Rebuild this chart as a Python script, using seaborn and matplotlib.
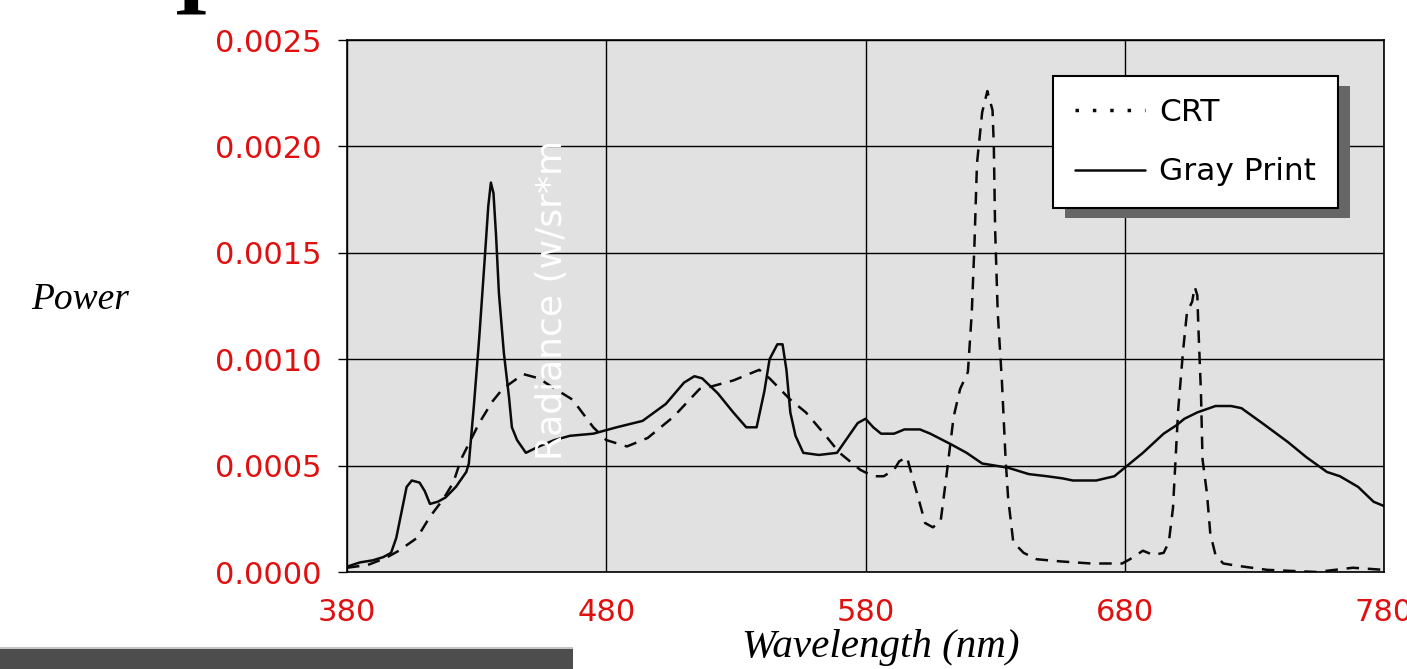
import matplotlib
matplotlib.use("Agg")
import numpy as np
import pandas as pd
import matplotlib.pyplot as plt
import seaborn as sns
from matplotlib.lines import Line2D
from matplotlib.patches import Rectangle

# Spectra (wavelength in nm, radiance)
crt_nm = [380, 388, 395, 400, 407, 412, 417, 421, 424, 431, 436, 440, 448, 454, 459,
          467, 475, 480, 488, 496, 506, 516, 520, 529, 539, 543, 551, 557, 564, 570,
          578, 583, 587, 591, 593, 596, 598, 601, 603, 606, 609, 611, 614, 616.5,
          619.5, 621, 622, 623, 625, 627, 629, 629.5, 630, 631, 632.6, 634, 635, 637,
          641, 646, 655, 667, 679, 682, 687, 691, 695, 697, 698.6, 700.6, 702.5, 704,
          706, 707, 708, 708.4, 709.4, 710, 711.7, 713, 715, 718, 723, 735, 754, 768, 780]
crt_val = [0.00002, 0.000033, 0.000066, 0.0001, 0.00016, 0.00026, 0.00034, 0.00042,
           0.00053, 0.0007, 0.0008, 0.00086, 0.00093, 0.00091, 0.00087, 0.00081,
           0.00068, 0.00062, 0.00059, 0.00063, 0.00073, 0.00086, 0.00087, 0.0009,
           0.00095, 0.00091, 0.00081, 0.00075, 0.00065, 0.00056, 0.00048, 0.00045,
           0.00045, 0.00048, 0.00052, 0.00054, 0.00045, 0.00032, 0.00023, 0.00021,
           0.00024, 0.00043, 0.00073, 0.00086, 0.00094, 0.00122, 0.00153, 0.00192,
           0.00216, 0.00226, 0.00217, 0.002, 0.00161, 0.00122, 0.0009, 0.00054,
           0.00035, 0.00014, 0.00009, 0.00006, 0.00005, 0.00004, 0.00004, 0.00006,
           0.0001, 0.00008, 0.00009, 0.00014, 0.0003, 0.00076, 0.00104, 0.00122,
           0.00127, 0.00134, 0.0013, 0.00115, 0.00084, 0.00053, 0.00037, 0.00018,
           0.00008, 0.00004, 0.00003, 0.00001, 0.0, 0.00002, 0.00001]

gray_nm = [380, 385, 390, 394, 397, 399, 401, 403, 405, 408, 410, 412, 415, 418, 422,
           426, 427, 429, 431, 433, 434.5, 435.5, 436.5, 437.5, 438.6, 440.5, 442.5,
           443.6, 445.6, 449, 454, 460, 466, 475, 484, 494, 503, 510, 514, 517, 523,
           529, 534, 538, 541, 543, 546, 548, 549.5, 551, 553, 556, 562, 569, 573, 577,
           580, 583, 586, 591, 595, 601, 605, 613, 619, 625, 635, 643, 650, 656, 660,
           669, 676, 680, 687, 695, 700, 703, 708, 715, 721, 725, 733, 743, 750, 758,
           763, 770, 776, 780]
gray_val = [0.000025, 0.000045, 0.000055, 0.00007, 0.00009, 0.00016, 0.00028, 0.0004,
            0.00043, 0.00042, 0.00038, 0.00032, 0.00033, 0.00035, 0.0004, 0.00047,
            0.00051, 0.00079, 0.0011, 0.00145, 0.00172, 0.00183, 0.00178, 0.00158,
            0.00131, 0.00103, 0.00082, 0.00068, 0.00062, 0.00056, 0.00059, 0.00062,
            0.00064, 0.00065, 0.00068, 0.00071, 0.00079, 0.00089, 0.00092, 0.00091,
            0.00084, 0.00075, 0.00068, 0.00068, 0.00085, 0.001, 0.00107, 0.00107,
            0.00095, 0.00075, 0.00064, 0.00056, 0.00055, 0.00056, 0.00063, 0.0007,
            0.00072, 0.00068, 0.00065, 0.00065, 0.00067, 0.00067, 0.00065, 0.0006,
            0.00056, 0.00051, 0.00049, 0.00046, 0.00045, 0.00044, 0.00043, 0.00043,
            0.00045, 0.00049, 0.00056, 0.00065, 0.00069, 0.00072, 0.00075, 0.00078,
            0.00078, 0.00077, 0.0007, 0.00061, 0.00054, 0.00047, 0.00045, 0.0004,
            0.00033, 0.00031]

series_names = ["CRT", "Gray Print"]
x_ticks = [380, 480, 580, 680, 780]
y_ticks = [0.0, 0.0005, 0.0010, 0.0015, 0.0020, 0.0025]

df = pd.concat([
    pd.DataFrame({"nm": crt_nm, "rad": crt_val, "series": "CRT"}),
    pd.DataFrame({"nm": gray_nm, "rad": gray_val, "series": "Gray Print"}),
], ignore_index=True)

sns.set_style("whitegrid", rc={"axes.facecolor": "#e1e1e1", "grid.color": "black",
                               "axes.edgecolor": "black", "text.color": "black",
                               "axes.labelcolor": "black"})
plt.rcParams["font.family"] = ["DejaVu Sans"]

red = "#e01010"
ink = "#0a0a0a"
fig = plt.figure(figsize=(14.07, 6.69), dpi=100)
ax = fig.add_axes([347 / 1407, 97 / 669, 1037 / 1407, 532 / 669])

sns.lineplot(data=df, x="nm", y="rad", style="series", style_order=series_names,
             dashes={"CRT": (5, 3.5), "Gray Print": ""}, color=ink,
             linewidth=1.8, estimator=None, legend=False, ax=ax)

ax.set_xlim(380, 780)
ax.set_ylim(0, 0.0025)
ax.set_xticks(x_ticks)
ax.set_yticks(y_ticks)
ax.set_yticklabels([f"{v:.4f}" for v in y_ticks])
ax.grid(True, color="black", linewidth=1.0)
ax.tick_params(axis="y", colors="black", labelcolor=red, labelsize=22,
               length=6.5, width=1.0, pad=12, left=True, direction="out")
ax.tick_params(axis="x", labelcolor=red, labelsize=22, length=0, pad=19)
for s in ax.spines.values():
    s.set_visible(True)
    s.set_color("black")
    s.set_linewidth(1.2)

serif = dict(family="Liberation Serif", style="italic", color="black")
ax.set_xlabel("Wavelength (nm)", va="center", fontsize=29.5, **serif)
ax.xaxis.set_label_coords(0.515, -0.141)
ax.set_ylabel("Power", rotation=0, ha="center", va="center", fontsize=27, **serif)
ax.yaxis.set_label_coords(-0.2575, 0.511)

# white in-plot axis caption, as in the original
ax.text(459, 0.00128, "Radiance (w/sr*m", rotation=90, color="white",
        fontsize=26, ha="center", va="center")

handles = [Line2D([], [], color=ink, linestyle=(0, (1, 4)), linewidth=2.5),
           Line2D([], [], color=ink, linestyle="-", linewidth=1.8)]
leg = ax.legend(handles, series_names, loc="upper left",
                bbox_to_anchor=((1053 - 347) / 1037, (572 - 76) / 532),
                borderaxespad=0, fontsize=22.5, frameon=True, fancybox=False,
                framealpha=1, facecolor="white", edgecolor="black",
                borderpad=0.7, labelspacing=0.98, handlelength=2.25,
                handletextpad=0.45,
                shadow={"ox": 8.6, "oy": -7.2, "facecolor": "#666666",
                        "edgecolor": "none", "alpha": 1})
leg.get_frame().set_linewidth(1.5)
for t in leg.get_texts():
    t.set_color("black")

# page fragments around the chart
fig.text(191 / 1407, 1 - 14 / 669, "I", family="Liberation Serif", weight="bold",
         fontsize=64, ha="center", va="baseline", color="black")
fig.patches.append(Rectangle((0, 0), 573 / 1407, 20 / 669, transform=fig.transFigure,
                             facecolor="#4d4d4d", edgecolor="none"))
fig.patches.append(Rectangle((0, 20 / 669), 573 / 1407, 2 / 669, transform=fig.transFigure,
                             facecolor="#c4c4c4", edgecolor="none"))

fig.savefig("out.png", dpi=100)
